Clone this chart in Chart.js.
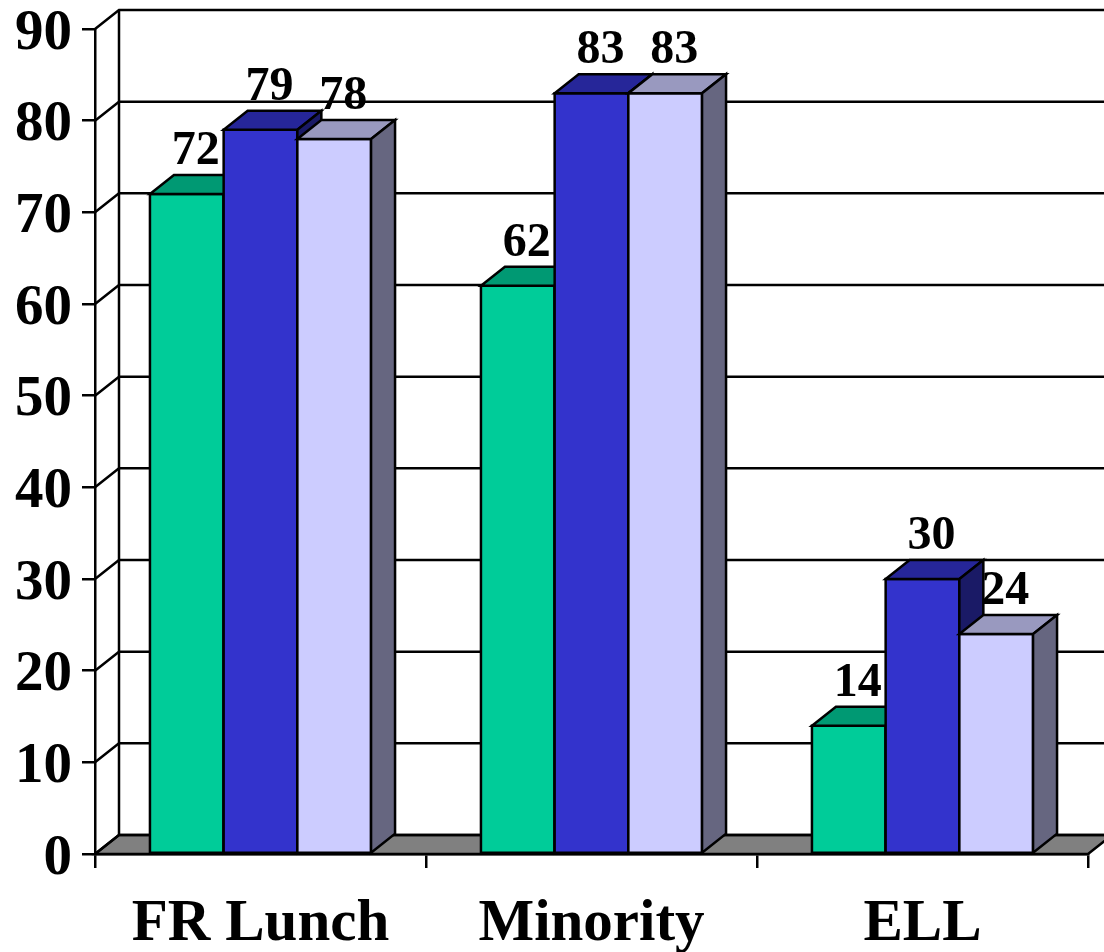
<!DOCTYPE html>
<html>
<head>
<meta charset="utf-8">
<script src="https://cdn.jsdelivr.net/npm/chart.js@4/dist/chart.umd.min.js"></script>
<style>
  html, body { margin: 0; padding: 0; background: #fff; }
  #wrap { width: 1104px; height: 952px; position: relative; }
</style>
</head>
<body>
<div id="wrap"><canvas id="c"></canvas></div>
<script>
// data
const categories = ['FR Lunch', 'Minority', 'ELL'];
const series1 = [72, 62, 14];
const series2 = [79, 83, 30];
const series3 = [78, 83, 24];
const yMax = 90, yStep = 10;

// front / top / side face colours for each series
const faces = [
  ['#00CC99', '#009973', '#006650'],
  ['#3333CC', '#262699', '#1A1A66'],
  ['#CCCCFF', '#9999BF', '#666680'],
];
const DX = 24, DY = -19; // 3d depth offset
const serif = '"Liberation Serif", "Times New Roman", serif';

function poly(ctx, pts, fill) {
  ctx.beginPath();
  ctx.moveTo(pts[0][0], pts[0][1]);
  for (let i = 1; i < pts.length; i++) ctx.lineTo(pts[i][0], pts[i][1]);
  ctx.closePath();
  if (fill) { ctx.fillStyle = fill; ctx.fill(); }
  ctx.stroke();
}

const box3d = {
  id: 'box3d',
  beforeDatasetsDraw(chart) {
    const { ctx, chartArea: a, scales: { y } } = chart;
    ctx.save();
    ctx.strokeStyle = '#000'; ctx.lineWidth = 2.5; ctx.lineJoin = 'miter';
    // floor
    poly(ctx, [[a.left, a.bottom], [a.right, a.bottom], [a.right + DX, a.bottom + DY], [a.left + DX, a.bottom + DY]], '#808080');
    // side wall + back wall grid
    y.ticks.forEach(t => {
      const py = y.getPixelForValue(t.value);
      ctx.beginPath();
      ctx.moveTo(a.left, py);
      ctx.lineTo(a.left + DX, py + DY);
      ctx.lineTo(a.right + DX + 40, py + DY);
      ctx.stroke();
    });
    ctx.beginPath();
    ctx.moveTo(a.left + DX, y.getPixelForValue(yMax) + DY);
    ctx.lineTo(a.left + DX, a.bottom + DY);
    ctx.stroke();
    ctx.restore();
  },
  afterDatasetsDraw(chart) {
    const { ctx } = chart;
    const n = chart.data.datasets.length;
    ctx.save();
    ctx.strokeStyle = '#000'; ctx.lineWidth = 2.5; ctx.lineJoin = 'miter';
    categories.forEach((_, i) => {
      for (let d = 0; d < n; d++) {
        const el = chart.getDatasetMeta(d).data[i];
        const l = el.x - el.width / 2, r = el.x + el.width / 2, t = el.y, b = el.base;
        const [front, top, side] = faces[d];
        poly(ctx, [[l, b], [r, b], [r, t], [l, t]], front);
        poly(ctx, [[l, t], [r, t], [r + DX, t + DY], [l + DX, t + DY]], top);
        poly(ctx, [[r, b], [r + DX, b + DY], [r + DX, t + DY], [r, t]], side);
      }
    });
    // value labels
    ctx.fillStyle = '#000';
    ctx.font = 'bold 48px ' + serif;
    ctx.textAlign = 'center';
    ctx.textBaseline = 'alphabetic';
    for (let d = 0; d < n; d++) {
      chart.getDatasetMeta(d).data.forEach((el, i) => {
        ctx.fillText(String(chart.data.datasets[d].data[i]), el.x + DX / 2 - 3, el.y + DY - 11);
      });
    }
    ctx.restore();
  }
};

const mk = (label, data) => ({ label, data, backgroundColor: 'transparent', borderWidth: 0 });

new Chart(document.getElementById('c'), {
  type: 'bar',
  data: {
    labels: categories,
    datasets: [mk('Series 1', series1), mk('Series 2', series2), mk('Series 3', series3)],
  },
  options: {
    responsive: true,
    maintainAspectRatio: false,
    animation: false,
    layout: { padding: { top: 29, right: 16, left: 0, bottom: 0 } },
    datasets: { bar: { categoryPercentage: 0.668, barPercentage: 1.0 } },
    plugins: { legend: { display: false }, tooltip: { enabled: false } },
    scales: {
      x: {
        afterFit: s => { s.height = 98; s.paddingLeft = 0; s.paddingRight = 0; },
        grid: { offset: true, drawOnChartArea: false, color: '#000', lineWidth: 2.5, tickLength: 14 },
        border: { display: true, color: '#000', width: 2.5 },
        ticks: { color: '#000', padding: 21, font: { family: serif, size: 59, weight: 'bold' } },
      },
      y: {
        min: 0, max: yMax,
        afterFit: s => { s.width = 95; s.paddingTop = 0; s.paddingBottom = 0; },
        grid: { drawOnChartArea: false, color: '#000', lineWidth: 2.5, tickLength: 13 },
        border: { display: true, color: '#000', width: 2.5 },
        ticks: { stepSize: yStep, color: '#000', padding: 10, labelOffset: 5, font: { family: serif, size: 57, weight: 'bold' } },
      },
    },
  },
  plugins: [box3d],
});
</script>
</body>
</html>
